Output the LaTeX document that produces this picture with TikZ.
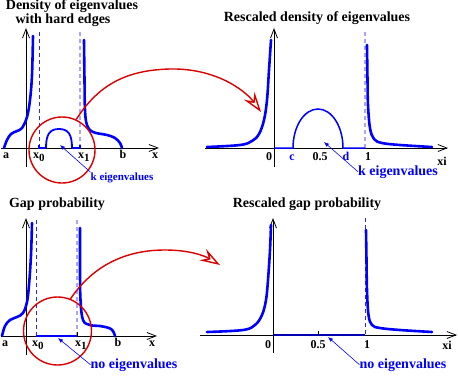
\documentclass[tikz,border=0pt]{standalone}
\usepackage{fontspec}
\setmainfont{Liberation Serif}
\usetikzlibrary{arrows.meta}

\begin{document}
\begin{tikzpicture}[x=1pt, y=-1pt,
	every node/.style={font=\bfseries\fontsize{12}{14}\selectfont, inner sep=0pt},
	ttl/.style={font=\bfseries\fontsize{14}{16}\selectfont, anchor=base},
	lbl/.style={anchor=base},
	sublbl/.style={anchor=base west},
	note/.style={font=\bfseries\fontsize{14}{16}\selectfont, anchor=base, text=blue},
	axis/.style={line width=0.8pt, -{Straight Barb[length=9pt,width=7pt]}},
	dens/.style={blue, line width=2.6pt, line join=round, line cap=round},
	flat/.style={blue, line width=1.5pt},
	guide/.style={blue!85, line width=0.7pt, dash pattern=on 4pt off 3pt},
	paleguide/.style={blue!35, line width=1.4pt, dash pattern=on 4pt off 3pt},
	lens/.style={circle, draw=red!85!black, line width=1.4pt, minimum size=#1},
	jump/.style={red!85!black, line width=1.4pt, -{Stealth[open, length=20pt, width=13pt, inset=7pt]}},
	pointer/.style={blue, line width=0.6pt, -{Latex[length=5pt,width=4pt]}}]
	\useasboundingbox (0,0) rectangle (458,375);
	\newcommand{\xsub}[1]{x\raisebox{-3pt}{\fontsize{11}{11}\selectfont #1}}

	% density with hard edges
	\draw[guide] (39,32) -- (39,148);
	\draw[paleguide] (80,32) -- (80,148);
	\draw[axis] (1,148) -- (159,148);
	\draw[axis] (26,167) -- (26,28);
	\draw[dens] plot[smooth, tension=0.6] coordinates {(4,148) (7,140) (11,134) (17,131) (22,128) (27,117) (30,100) (32,75) (33,36)};
	\draw[dens] plot[smooth, tension=0.6] coordinates {(84,40) (84.5,80) (85,110) (87,125) (93,132) (107,135) (115,138) (120,143) (122,148)};
	\draw[flat, line width=1.2pt] (39,144.5) -- (39,148) -- (46,148) (72,148) -- (80,148) -- (80,144.5);
	\draw[flat, line width=1.8pt] (46,148) .. controls (46,134) and (50,129) .. (59,129) .. controls (68,129) and (72,134) .. (72,148);
	\node[ttl] (densTitle) at (72,9.5) {Density of eigenvalues};
	\node[ttl] (densTitleB) at (63,23) {with hard edges};
	\node[lbl] (densA) at (6,158) {a};
	\node[sublbl] (densXa) at (33,158) {\xsub{0}};
	\node[sublbl] (densXb) at (78,158) {\xsub{1}};
	\node[lbl] (densB) at (123,158) {b};
	\node[lbl] (densX) at (155,158) {x};
	\node[lens=66pt] (lensA) at (62,150) {};
	\node[note, font=\bfseries\fontsize{11}{13}\selectfont] (kA) at (122,180) {k eigenvalues};
	\coordinate (kAtip) at (60,145);
	\draw[pointer] (kA.north west) -- (kAtip);

	% rescaled density
	\draw[paleguide] (365,32) -- (365,148);
	\draw[axis] (205,148) -- (448,148);
	\draw[axis] (274,167) -- (274,28);
	\draw[dens] plot[smooth, tension=0.6] coordinates {(207,147) (240,145) (252,141) (259,134) (264,120) (267,100) (269,70) (271,40)};
	\draw[dens] plot[smooth, tension=0.6] coordinates {(367,45) (367.5,80) (368,105) (370,128) (374,139) (382,143) (400,145) (432,147)};
	\draw[flat] (274,148) -- (293,148) arc[start angle=180, end angle=360, x radius=25, y radius=39] -- (365,148);
	\node[ttl] (scaleTitle) at (317,21) {Rescaled density of eigenvalues};
	\node[lbl] (scaleZero) at (269,160) {0};
	\node[lbl, text=blue] (scaleC) at (292,160) {c};
	\node[lbl] (scaleHalf) at (320,160) {0.5};
	\node[lbl, text=blue] (scaleD) at (346,160) {d};
	\node[lbl] (scaleOne) at (368,160) {1};
	\node[lbl] (scaleXi) at (442,165) {xi};
	\node[note] (kB) at (398,175) {k eigenvalues};
	\coordinate (kBtip) at (324,142);
	\draw[pointer] (kB.west) -- (kBtip);

	% gap probability
	\draw[guide] (36,220) -- (36,336);
	\draw[paleguide] (77,220) -- (77,336);
	\draw[axis] (1,336) -- (157,336);
	\draw[axis] (26,355) -- (26,218);
	\draw[dens] plot[smooth, tension=0.6] coordinates {(2,336) (5,326) (10,320) (17,317) (23,313) (27,302) (29,285) (31,255) (32,223)};
	\draw[dens] plot[smooth, tension=0.6] coordinates {(80,228) (80,270) (80.5,300) (83,320) (90,325) (100,326) (109,328) (113,331) (115,336)};
	\draw[flat] (36,336) -- (77,336);
	\draw[line width=0.8pt] (77,332) -- (77,336);
	\node[ttl] (gapTitle) at (57,207) {Gap probability};
	\node[lbl] (gapA) at (5,346) {a};
	\node[sublbl] (gapXa) at (32,346) {\xsub{0}};
	\node[sublbl] (gapXb) at (75,346) {\xsub{1}};
	\node[lbl] (gapB) at (118,346) {b};
	\node[lbl] (gapX) at (152,346) {x};
	\node[lens=68pt] (lensB) at (57.5,331) {};
	\node[note] (noA) at (134,368) {no eigenvalues};
	\coordinate (noAtip) at (58,338);
	\draw[pointer] (noA.west) -- (noAtip);

	% rescaled gap probability
	\draw[guide] (365,218) -- (365,335);
	\draw[axis] (200,335) -- (457,335);
	\draw[axis] (273,353) -- (273,218);
	\draw[dens] plot[smooth, tension=0.6] coordinates {(207,332) (243,330) (255,325) (262,315) (266,300) (268,280) (270,250) (271,225)};
	\draw[dens] plot[smooth, tension=0.6] coordinates {(366,230) (366.5,260) (367,290) (368.5,315) (372,325) (380,328) (400,330) (432,332)};
	\draw[flat, blue!70!black] (273,335) -- (365,335);
	\draw[line width=0.8pt] (318,331) -- (318,335);
	\node[ttl] (gapScaleTitle) at (307,207) {Rescaled gap probability};
	\node[lbl] (gapZero) at (268,348) {0};
	\node[lbl] (gapHalf) at (318,348) {0.5};
	\node[lbl] (gapOne) at (367,348) {1};
	\node[lbl] (gapXi) at (447,349) {xi};
	\node[note] (noB) at (403,368) {no eigenvalues};
	\coordinate (noBtip) at (328,337);
	\draw[pointer] (noB.west) -- (noBtip);

	% zoom arrows
	\coordinate (jumpA) at (261,112);
	\coordinate (jumpB) at (220,265);
	\draw[jump] (lensA.65) .. controls (100,82) and (130,70) .. (170,69) .. controls (215,68) and (245,90) .. (jumpA);
	\draw[jump] (lensB.68) .. controls (90,270) and (120,250) .. (165,250) .. controls (190,250) and (205,256) .. (jumpB);
\end{tikzpicture}
\end{document}
